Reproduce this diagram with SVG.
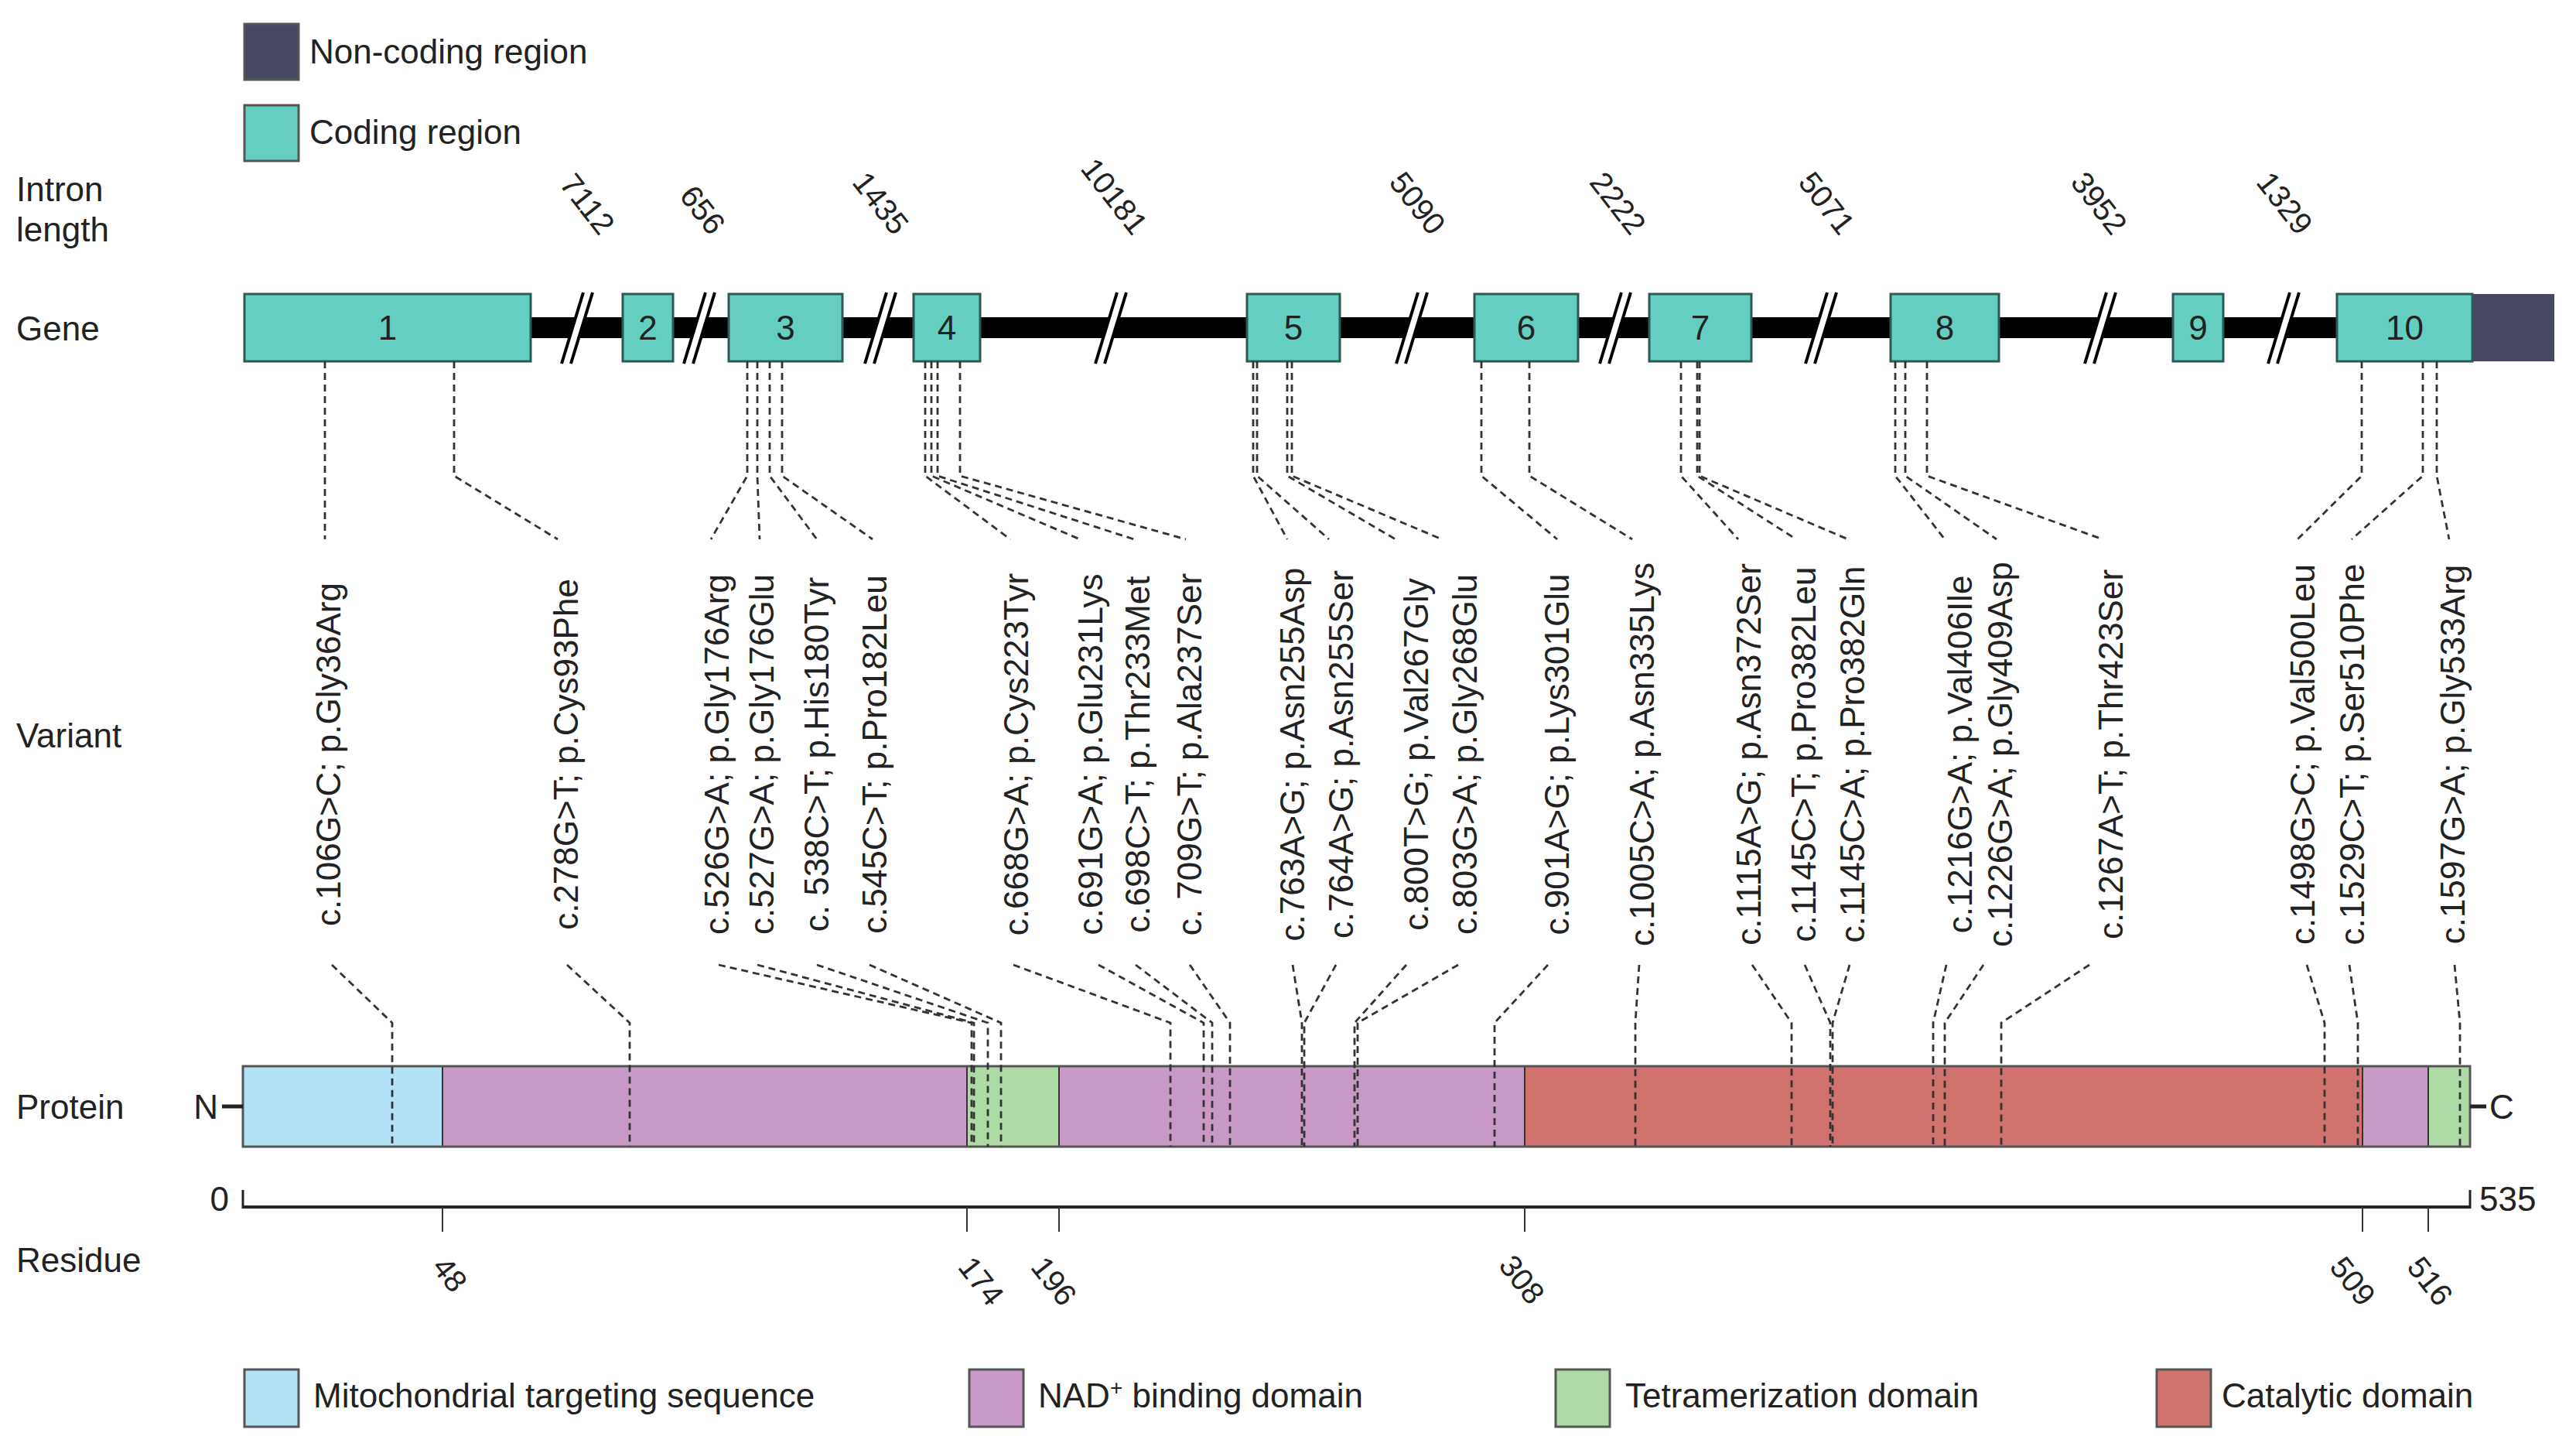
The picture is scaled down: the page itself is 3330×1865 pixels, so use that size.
<svg xmlns="http://www.w3.org/2000/svg" width="3330" height="1865" viewBox="0 0 3330 1865">
<defs>
<style>
text{font-family:"Liberation Sans",Arial,sans-serif;fill:#222}
.lab{font-size:44px}
.num{font-size:40px}
.ex{font-size:44px;text-anchor:middle}
.var{font-size:44px;text-anchor:middle;dominant-baseline:central}
.exon{fill:#64cfc0;stroke:#2c5955;stroke-width:3}
.d{fill:none;stroke:#333;stroke-width:2.8;stroke-dasharray:9 6}
.tick{stroke:#333;stroke-width:2}
.bd{stroke:#333;stroke-width:2}
.lg{stroke:#555;stroke-width:3}
</style>
<g id="brk">
<polygon points="-21,470 7,378 19,378 -9,470" fill="#fff"/>
<line x1="-21" y1="470" x2="7" y2="378" stroke="#000" stroke-width="4"/>
<line x1="-9" y1="470" x2="19" y2="378" stroke="#000" stroke-width="4"/>
</g>
</defs>
<rect width="3330" height="1865" fill="#fff"/>

<g id="legend-gene">
<rect x="316" y="31" width="70" height="72" fill="#464862" class="lg"/>
<text class="lab" x="400" y="82">Non-coding region</text>
<rect x="316" y="136" width="70" height="72" fill="#64cfc0" class="lg"/>
<text class="lab" x="400" y="186">Coding region</text>
</g>

<g id="row-labels">
<text class="lab" x="21" y="260">Intron</text>
<text class="lab" x="21" y="312">length</text>
<text class="lab" x="21" y="440">Gene</text>
<text class="lab" x="21" y="966">Variant</text>
<text class="lab" x="21" y="1446">Protein</text>
<text class="lab" x="21" y="1644">Residue</text>
</g>

<g id="intron-lengths">
<text class="num" text-anchor="end" transform="translate(775,306) rotate(52)">7112</text>
<text class="num" text-anchor="end" transform="translate(918,306) rotate(52)">656</text>
<text class="num" text-anchor="end" transform="translate(1155,306) rotate(52)">1435</text>
<text class="num" text-anchor="end" transform="translate(1464,306) rotate(52)">10181</text>
<text class="num" text-anchor="end" transform="translate(1849,306) rotate(52)">5090</text>
<text class="num" text-anchor="end" transform="translate(2108,306) rotate(52)">2222</text>
<text class="num" text-anchor="end" transform="translate(2378,306) rotate(52)">5071</text>
<text class="num" text-anchor="end" transform="translate(2730,306) rotate(52)">3952</text>
<text class="num" text-anchor="end" transform="translate(2970,306) rotate(52)">1329</text>
</g>

<g id="gene">
<rect x="686" y="410" width="2336" height="27" fill="#000"/>
<use href="#brk" x="747"/>
<use href="#brk" x="905"/>
<use href="#brk" x="1139"/>
<use href="#brk" x="1437"/>
<use href="#brk" x="1826"/>
<use href="#brk" x="2089"/>
<use href="#brk" x="2355"/>
<use href="#brk" x="2716"/>
<use href="#brk" x="2953"/>
<g id="exon1"><rect class="exon" x="316" y="380" width="370" height="87"/><text class="ex" x="501" y="439">1</text></g>
<g id="exon2"><rect class="exon" x="805" y="380" width="65" height="87"/><text class="ex" x="837.5" y="439">2</text></g>
<g id="exon3"><rect class="exon" x="942" y="380" width="147" height="87"/><text class="ex" x="1015.5" y="439">3</text></g>
<g id="exon4"><rect class="exon" x="1181" y="380" width="86" height="87"/><text class="ex" x="1224" y="439">4</text></g>
<g id="exon5"><rect class="exon" x="1612" y="380" width="120" height="87"/><text class="ex" x="1672" y="439">5</text></g>
<g id="exon6"><rect class="exon" x="1906" y="380" width="134" height="87"/><text class="ex" x="1973" y="439">6</text></g>
<g id="exon7"><rect class="exon" x="2132" y="380" width="132" height="87"/><text class="ex" x="2198" y="439">7</text></g>
<g id="exon8"><rect class="exon" x="2444" y="380" width="140" height="87"/><text class="ex" x="2514" y="439">8</text></g>
<g id="exon9"><rect class="exon" x="2809" y="380" width="65" height="87"/><text class="ex" x="2841.5" y="439">9</text></g>
<g id="exon10"><rect x="3196" y="380" width="106" height="87" fill="#464862"/><rect class="exon" x="3021" y="380" width="175" height="87"/><text class="ex" x="3108.5" y="439">10</text></g>
</g>

<g id="protein">
<rect x="314" y="1378" width="258" height="104" fill="#b3e2f7"/>
<rect x="572" y="1378" width="678" height="104" fill="#c799c4"/>
<rect x="1250" y="1378" width="119" height="104" fill="#aedba5"/>
<rect x="1369" y="1378" width="602" height="104" fill="#c799c4"/>
<rect x="1971" y="1378" width="1083" height="104" fill="#d0726e"/>
<rect x="3054" y="1378" width="85" height="104" fill="#c799c4"/>
<rect x="3139" y="1378" width="54" height="104" fill="#aedba5"/>
<line class="bd" x1="572" y1="1378" x2="572" y2="1482"/>
<line class="bd" x1="1250" y1="1378" x2="1250" y2="1482"/>
<line class="bd" x1="1369" y1="1378" x2="1369" y2="1482"/>
<line class="bd" x1="1971" y1="1378" x2="1971" y2="1482"/>
<line class="bd" x1="3054" y1="1378" x2="3054" y2="1482"/>
<line class="bd" x1="3139" y1="1378" x2="3139" y2="1482"/>
<rect x="314" y="1378" width="2879" height="104" fill="none" stroke="#555" stroke-width="3"/>
<line x1="287" y1="1430" x2="314" y2="1430" stroke="#222" stroke-width="5"/>
<text class="lab" x="282" y="1446" text-anchor="end">N</text>
<line x1="3193" y1="1430" x2="3214" y2="1430" stroke="#222" stroke-width="5"/>
<text class="lab" x="3218" y="1446">C</text>
</g>

<g id="connectors">
<path class="d" d="M420 467V697M429 1247L507 1322V1482"/>
<path class="d" d="M587 467V615L721 697M733 1247L814 1322V1482"/>
<path class="d" d="M966 467V615L919 697M929 1247L1256 1322V1482"/>
<path class="d" d="M979 467V615L982 697M979 1247L1259 1322V1482"/>
<path class="d" d="M995 467V615L1056 697M1056 1247L1277 1322V1482"/>
<path class="d" d="M1011 467V615L1128 697M1124 1247L1294 1322V1482"/>
<path class="d" d="M1196 467V615L1306 697M1310 1247L1513 1322V1482"/>
<path class="d" d="M1204 467V615L1396 697M1420 1247L1556 1322V1482"/>
<path class="d" d="M1212 467V615L1466 697M1468 1247L1567 1322V1482"/>
<path class="d" d="M1241 467V615L1533 697M1538 1247L1590 1322V1482"/>
<path class="d" d="M1620 467V615L1664 697M1671 1247L1683 1322V1482"/>
<path class="d" d="M1625 467V615L1718 697M1727 1247L1686 1322V1482"/>
<path class="d" d="M1664 467V615L1804 697M1818 1247L1751 1322V1482"/>
<path class="d" d="M1670 467V615L1864 697M1885 1247L1755 1322V1482"/>
<path class="d" d="M1915 467V615L2013 697M2001 1247L1932 1322V1482"/>
<path class="d" d="M1977 467V615L2110 697M2119 1247L2114 1322V1482"/>
<path class="d" d="M2173 467V615L2247 697M2265 1247L2316 1322V1482"/>
<path class="d" d="M2194 467V615L2322 697M2333 1247L2366 1322V1482"/>
<path class="d" d="M2197 467V615L2389 697M2391 1247L2369 1322V1482"/>
<path class="d" d="M2450 467V615L2514 697M2516 1247L2499 1322V1482"/>
<path class="d" d="M2463 467V615L2581 697M2564 1247L2514 1322V1482"/>
<path class="d" d="M2491 467V615L2718 697M2701 1247L2587 1322V1482"/>
<path class="d" d="M3053 467V615L2970 697M2982 1247L3005 1322V1482"/>
<path class="d" d="M3132 467V615L3040 697M3037 1247L3048 1322V1482"/>
<path class="d" d="M3150 467V615L3166 697M3173 1247L3180 1322V1482"/>
</g>

<g id="variants">
<text class="var" transform="translate(424,975) rotate(-90)">c.106G&gt;C; p.Gly36Arg</text>
<text class="var" transform="translate(731,975) rotate(-90)">c.278G&gt;T; p.Cys93Phe</text>
<text class="var" transform="translate(926,975) rotate(-90)">c.526G&gt;A; p.Gly176Arg</text>
<text class="var" transform="translate(984,975) rotate(-90)">c.527G&gt;A; p.Gly176Glu</text>
<text class="var" transform="translate(1055,975) rotate(-90)">c. 538C&gt;T; p.His180Tyr</text>
<text class="var" transform="translate(1130,975) rotate(-90)">c.545C&gt;T; p.Pro182Leu</text>
<text class="var" transform="translate(1313,975) rotate(-90)">c.668G&gt;A; p.Cys223Tyr</text>
<text class="var" transform="translate(1409,975) rotate(-90)">c.691G&gt;A; p.Glu231Lys</text>
<text class="var" transform="translate(1470,975) rotate(-90)">c.698C&gt;T; p.Thr233Met</text>
<text class="var" transform="translate(1537,975) rotate(-90)">c. 709G&gt;T; p.Ala237Ser</text>
<text class="var" transform="translate(1670,975) rotate(-90)">c.763A&gt;G; p.Asn255Asp</text>
<text class="var" transform="translate(1733,975) rotate(-90)">c.764A&gt;G; p.Asn255Ser</text>
<text class="var" transform="translate(1830,975) rotate(-90)">c.800T&gt;G; p.Val267Gly</text>
<text class="var" transform="translate(1893,975) rotate(-90)">c.803G&gt;A; p.Gly268Glu</text>
<text class="var" transform="translate(2012,975) rotate(-90)">c.901A&gt;G; p.Lys301Glu</text>
<text class="var" transform="translate(2122,975) rotate(-90)">c.1005C&gt;A; p.Asn335Lys</text>
<text class="var" transform="translate(2260,975) rotate(-90)">c.1115A&gt;G; p.Asn372Ser</text>
<text class="var" transform="translate(2331,975) rotate(-90)">c.1145C&gt;T; p.Pro382Leu</text>
<text class="var" transform="translate(2394,975) rotate(-90)">c.1145C&gt;A; p.Pro382Gln</text>
<text class="var" transform="translate(2533,975) rotate(-90)">c.1216G&gt;A; p.Val406Ile</text>
<text class="var" transform="translate(2585,975) rotate(-90)">c.1226G&gt;A; p.Gly409Asp</text>
<text class="var" transform="translate(2728,975) rotate(-90)">c.1267A&gt;T; p.Thr423Ser</text>
<text class="var" transform="translate(2976,975) rotate(-90)">c.1498G&gt;C; p.Val500Leu</text>
<text class="var" transform="translate(3040,975) rotate(-90)">c.1529C&gt;T; p.Ser510Phe</text>
<text class="var" transform="translate(3170,975) rotate(-90)">c.1597G&gt;A; p.Gly533Arg</text>
</g>

<g id="residue-axis">
<line x1="314" y1="1560" x2="3193" y2="1560" stroke="#222" stroke-width="4"/>
<line x1="314" y1="1538" x2="314" y2="1562" stroke="#222" stroke-width="3"/>
<line x1="3193" y1="1538" x2="3193" y2="1562" stroke="#222" stroke-width="3"/>
<line class="tick" x1="572" y1="1560" x2="572" y2="1592"/>
<line class="tick" x1="1250" y1="1560" x2="1250" y2="1592"/>
<line class="tick" x1="1369" y1="1560" x2="1369" y2="1592"/>
<line class="tick" x1="1971" y1="1560" x2="1971" y2="1592"/>
<line class="tick" x1="3054" y1="1560" x2="3054" y2="1592"/>
<line class="tick" x1="3139" y1="1560" x2="3139" y2="1592"/>
<text class="lab" x="296" y="1565" text-anchor="end">0</text>
<text class="lab" x="3205" y="1565">535</text>
<text class="num" transform="translate(557,1638) rotate(52)">48</text>
<text class="num" transform="translate(1237,1638) rotate(52)">174</text>
<text class="num" transform="translate(1331,1638) rotate(52)">196</text>
<text class="num" transform="translate(1936,1636) rotate(52)">308</text>
<text class="num" transform="translate(3010,1638) rotate(52)">509</text>
<text class="num" transform="translate(3110,1638) rotate(52)">516</text>
</g>

<g id="legend-protein">
<rect x="316" y="1770" width="70" height="74" fill="#b3e2f7" class="lg"/>
<text class="lab" x="405" y="1819">Mitochondrial targeting sequence</text>
<rect x="1253" y="1770" width="70" height="74" fill="#c799c4" class="lg"/>
<text class="lab" x="1342" y="1819">NAD<tspan font-size="28" dy="-16">+</tspan><tspan dy="16"> binding domain</tspan></text>
<rect x="2011" y="1770" width="70" height="74" fill="#aedba5" class="lg"/>
<text class="lab" x="2101" y="1819">Tetramerization domain</text>
<rect x="2788" y="1770" width="70" height="74" fill="#d0726e" class="lg"/>
<text class="lab" x="2872" y="1819">Catalytic domain</text>
</g>
</svg>
